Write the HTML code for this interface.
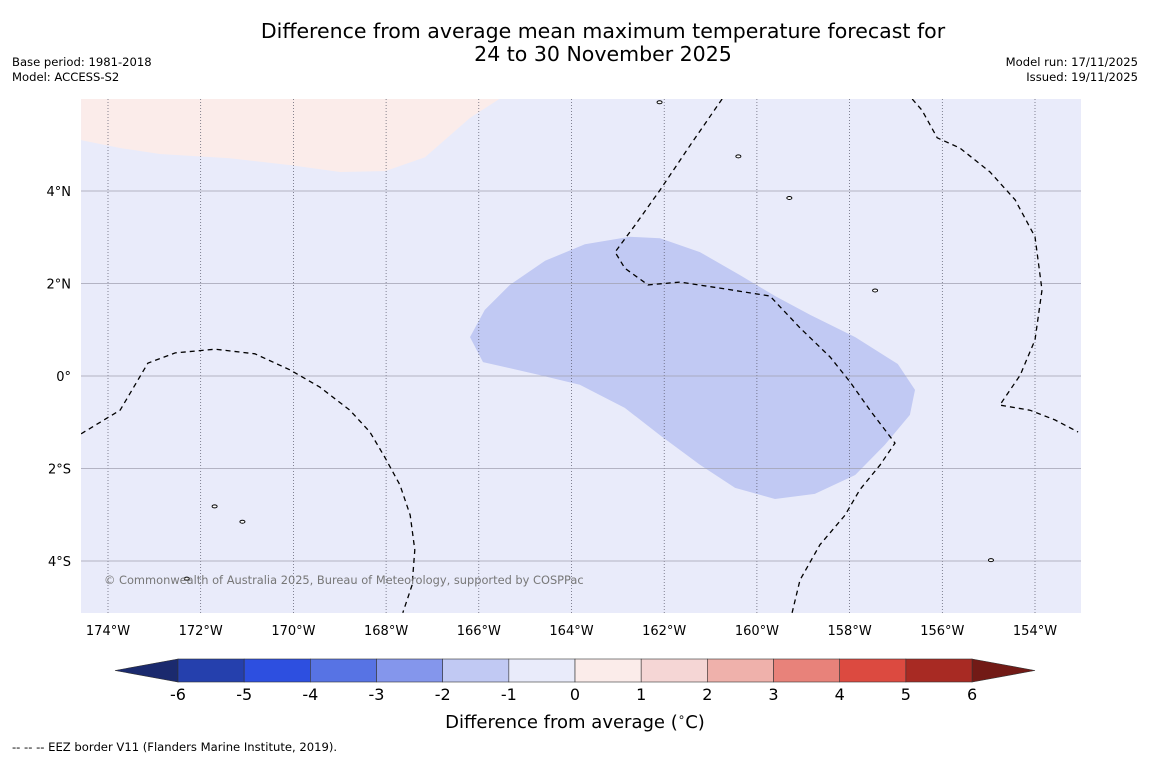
<!DOCTYPE html>
<html><head><meta charset="utf-8"><style>
body{margin:0;background:#fff;font-family:"Liberation Sans","DejaVu Sans",sans-serif}
svg{display:block}
</style></head><body>
<svg width="1150" height="758" xmlns="http://www.w3.org/2000/svg" font-family="DejaVu Sans, Liberation Sans, sans-serif">
<rect width="1150" height="758" fill="#fff"/>
<text x="603" y="38" font-size="20.5" text-anchor="middle">Difference from average mean maximum temperature forecast for</text>
<text x="603" y="61" font-size="20.5" text-anchor="middle">24 to 30 November 2025</text>
<text x="12" y="66" font-size="11.6">Base period: 1981-2018</text>
<text x="12" y="81" font-size="11.6">Model: ACCESS-S2</text>
<text x="1138" y="66" font-size="11.6" text-anchor="end">Model run: 17/11/2025</text>
<text x="1138" y="81" font-size="11.6" text-anchor="end">Issued: 19/11/2025</text>
<g id="map"></g>
<g id="cbar"></g>
<text x="575" y="728" font-size="18" text-anchor="middle">Difference from average (<tspan font-size="12" dy="-7">∘</tspan><tspan dy="7">C)</tspan></text>
<text x="12" y="751" font-size="11.6">--  --  -- EEZ border V11 (Flanders Marine Institute, 2019).</text>
</svg>
<script>
const lonTicks=[-174,-172,-170,-168,-166,-164,-162,-160,-158,-156,-154];
const latTicks=[4,2,0,-2,-4];
const pinkRegion=[[-174.58,6],[-174.58,5.10],[-173.74,4.93],[-172.88,4.80],[-171.37,4.71],[-170.07,4.56],[-168.99,4.41],[-168.02,4.43],[-167.16,4.73],[-166.19,5.58],[-165.54,6]];
const blueBlob=[[-166.19,0.84],[-165.87,1.43],[-165.33,1.97],[-164.57,2.49],[-163.71,2.85],[-162.74,3.01],[-162.09,2.98],[-161.23,2.68],[-160.36,2.18],[-159.61,1.73],[-158.85,1.32],[-157.88,0.84],[-156.96,0.26],[-156.59,-0.30],[-156.70,-0.84],[-157.24,-1.49],[-157.88,-2.14],[-158.75,-2.55],[-159.61,-2.66],[-160.47,-2.42],[-161.23,-1.92],[-162.09,-1.28],[-162.85,-0.69],[-163.82,-0.19],[-164.68,0.02],[-165.91,0.30]];
const eezA=[[-174.58,-1.25],[-173.74,-0.74],[-173.14,0.28],[-172.55,0.50],[-171.69,0.58],[-170.83,0.48],[-170.07,0.13],[-169.43,-0.24],[-168.78,-0.74],[-168.35,-1.21],[-168.02,-1.77],[-167.70,-2.36],[-167.48,-3.01],[-167.38,-3.76],[-167.44,-4.52],[-167.64,-5.12]];
const eezB=[[-160.75,5.99],[-161.44,4.99],[-162.09,4.02],[-162.63,3.26],[-163.06,2.68],[-162.85,2.33],[-162.35,1.97],[-161.66,2.03],[-160.80,1.90],[-159.72,1.73],[-159.07,1.04],[-158.42,0.41],[-157.99,-0.13],[-157.56,-0.74],[-157.02,-1.45],[-157.34,-1.92],[-157.78,-2.46],[-158.10,-3.01],[-158.64,-3.65],[-159.07,-4.41],[-159.24,-5.12]];
const eezC=[[-156.65,5.99],[-156.44,5.75],[-156.11,5.15],[-155.62,4.93],[-154.97,4.41],[-154.43,3.81],[-154.00,3.01],[-153.85,1.86],[-154.00,0.78],[-154.32,0.02],[-154.76,-0.63],[-154.11,-0.74],[-153.57,-0.95],[-153.07,-1.21]];
const islands=[[-159.30,3.85],[-157.45,1.85],[-171.70,-2.82],[-162.10,5.92],[-172.30,-4.38],[-154.95,-3.98],[-171.10,-3.15],[-160.40,4.75]];
const cbarLevels=[-6,-5,-4,-3,-2,-1,0,1,2,3,4,5,6];
const cbarColors=["#2540ad","#2d4fe0","#5773e4","#8496ec","#c1c9f3","#e9ebfa","#fbecea","#f5d6d5","#efb1ab","#e8827a","#dc4a40","#a82a23"];
const NS="http://www.w3.org/2000/svg";
const X0=81,X1=1081,Y0=99,Y1=613;
const x=lon=>108+(lon+174)*46.35;
const y=lat=>376-lat*46.25;
const cx=v=>178+(v+6)*66.17;
function mk(tag,attrs,parent){const e=document.createElementNS(NS,tag);for(const k in attrs)e.setAttribute(k,attrs[k]);parent.appendChild(e);return e;}
const pts=a=>a.map(p=>x(p[0]).toFixed(1)+","+y(p[1]).toFixed(1)).join(" ");
const map=document.getElementById("map");
const clip=mk("clipPath",{id:"mc"},map);mk("rect",{x:X0,y:Y0,width:X1-X0,height:Y1-Y0},clip);
let e=mk("rect",{x:X0,y:Y0,width:X1-X0,height:Y1-Y0,fill:"#e9ebfa"},map);


const g=mk("g",{"clip-path":"url(#mc)"},map);
e=mk("polygon",{points:pts(pinkRegion),fill:"#fbecea"},g);


e=mk("polygon",{points:pts(blueBlob),fill:"#c1c9f3"},g);


lonTicks.forEach(l=>{
 e=mk("line",{x1:x(l),x2:x(l),y1:Y0,y2:Y1,stroke:"#556",
 "stroke-width":0.7,"stroke-dasharray":"1,2"},g);
 
 
 e=mk("text",{x:x(l),y:635,"font-size":13,"text-anchor":"middle"},map);
 e.textContent=Math.abs(l)+"°W";
 
 
});
latTicks.forEach(l=>{
 e=mk("line",{x1:X0,x2:X1,y1:y(l),y2:y(l),stroke:"#a0a0b0","stroke-width":0.8},g);
 
 
 e=mk("text",{x:71,y:y(l)+5,"font-size":13,"text-anchor":"end"},map);
 e.textContent=l===0?"0°":Math.abs(l)+"°"+(l>0?"N":"S");
 
 
});
[eezA,eezB,eezC].forEach(a=>{
 e=mk("polyline",{points:pts(a),fill:"none",stroke:"#000","stroke-width":1.3,"stroke-dasharray":"5,4"},g);
 
 
});
islands.forEach(p=>{
 e=mk("ellipse",{cx:x(p[0]),cy:y(p[1]),rx:2.5,ry:1.5,fill:"#fff",stroke:"#000","stroke-width":1},g);
 
 
});
e=mk("text",{x:104,y:584,"font-size":11.4,fill:"#777"},map);
e.textContent="© Commonwealth of Australia 2025, Bureau of Meteorology, supported by COSPPac";


const cb=document.getElementById("cbar");
const CY0=659,CY1=682;
e=mk("polygon",{points:`${cx(-6)},${CY0} 115,${(CY0+CY1)/2} ${cx(-6)},${CY1}`,fill:"#1b2a6e",stroke:"#333","stroke-width":0.6},cb);


e=mk("polygon",{points:`${cx(6)},${CY0} 1035,${(CY0+CY1)/2} ${cx(6)},${CY1}`,fill:"#721a16",stroke:"#333","stroke-width":0.6},cb);


cbarColors.forEach((c,i)=>{
 e=mk("rect",{x:cx(cbarLevels[i]),y:CY0,width:cx(cbarLevels[i+1])-cx(cbarLevels[i]),height:CY1-CY0,fill:c,stroke:"#333","stroke-width":0.6},cb);
 
 
});
cbarLevels.forEach(v=>{
 e=mk("text",{x:cx(v),y:700,"font-size":16,"text-anchor":"middle"},cb);
 e.textContent=v;
 
 
});
</script>
</body></html>
